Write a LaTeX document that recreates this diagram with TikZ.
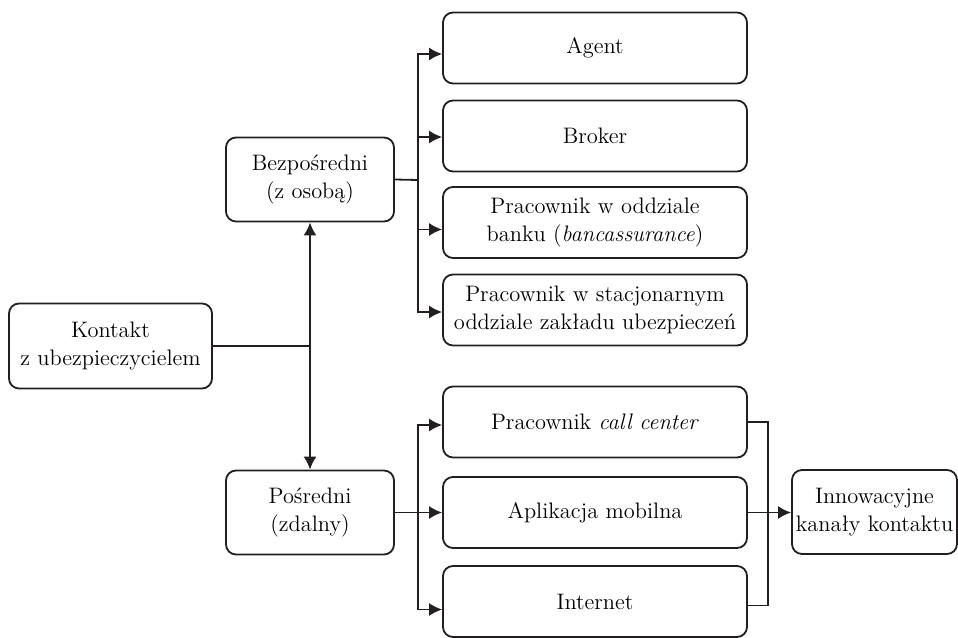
\documentclass[tikz,border=0pt]{standalone}
\usepackage{tikz}
\usetikzlibrary{positioning,arrows.meta}
\tikzset{>={Latex[length=6.5pt,width=6.5pt]}}
\tikzset{box/.style={draw,rounded corners=5pt,align=center,inner sep=1pt,
  font=\fontsize{11.2}{14}\selectfont},
  wide/.style={box,minimum width=152pt,minimum height=35.5pt},
  mid/.style={box,minimum width=84pt,minimum height=42pt}}
\begin{document}
\begin{tikzpicture}[x=0.5pt,y=-0.5pt,line width=0.9pt,draw={rgb,255:red,35;green,31;blue,32}]
\useasboundingbox (0,0) rectangle (958,637);
\node[box,minimum width=101.5pt,minimum height=42.5pt] (kontakt) at (110.5,346) {Kontakt\\z ubezpieczycielem};
\node[mid] (bezp) at (310,179.5) {Bezpośredni\\(z osobą)};
\node[mid] (posr) at (310,512.5) {Pośredni\\(zdalny)};
\node[wide] (agent) at (595,48) {Agent};
\node[wide] (broker) at (595,136) {Broker};
\node[wide] (bank) at (595,222.5) {Pracownik w oddziale\\banku (\textit{bancassurance})};
\node[wide] (stacj) at (595,310) {Pracownik w stacjonarnym\\oddziale zakładu ubezpieczeń};
\node[wide] (call) at (595,422) {Pracownik \textit{call center}};
\node[wide] (apl) at (595,512.5) {Aplikacja mobilna};
\node[wide] (internet) at (595,601.5) {Internet};
\node[box,minimum width=82.5pt,minimum height=42pt] (innow) at (874.5,512) {Innowacyjne\\kanały kontaktu};
% kontakt
\coordinate (k1) at (310,346);
\draw (kontakt.east) -- (k1);
\draw[->] (k1) -- (bezp.south);
\draw[->] (k1) -- (posr.north);
% bezposredni
\coordinate (b1) at (418,180);
\draw (bezp.east) -- (b1);
\draw[->] (b1) |- ([yshift=-3pt]agent.west);
\draw[->] (b1) |- ([yshift=-0.5pt]broker.west);
\draw[->] (b1) |- ([yshift=-3.5pt]bank.west);
\draw[->] (b1) |- ([yshift=-1pt]stacj.west);
% posredni
\coordinate (p1) at (418,512.5);
\draw (posr.east) -- (p1);
\draw[->] (p1) |- ([yshift=-1.5pt]call.west);
\draw[->] (p1) -- (apl.west);
\draw[->] (p1) |- ([yshift=-4pt]internet.west);
% innowacyjne
\coordinate (r1) at (768,512.5);
\draw (call.east) -| (r1) |- ([yshift=-2pt]internet.east);
\draw[->] (apl.east) -- (innow.west |- apl.east);
\end{tikzpicture}
\end{document}
